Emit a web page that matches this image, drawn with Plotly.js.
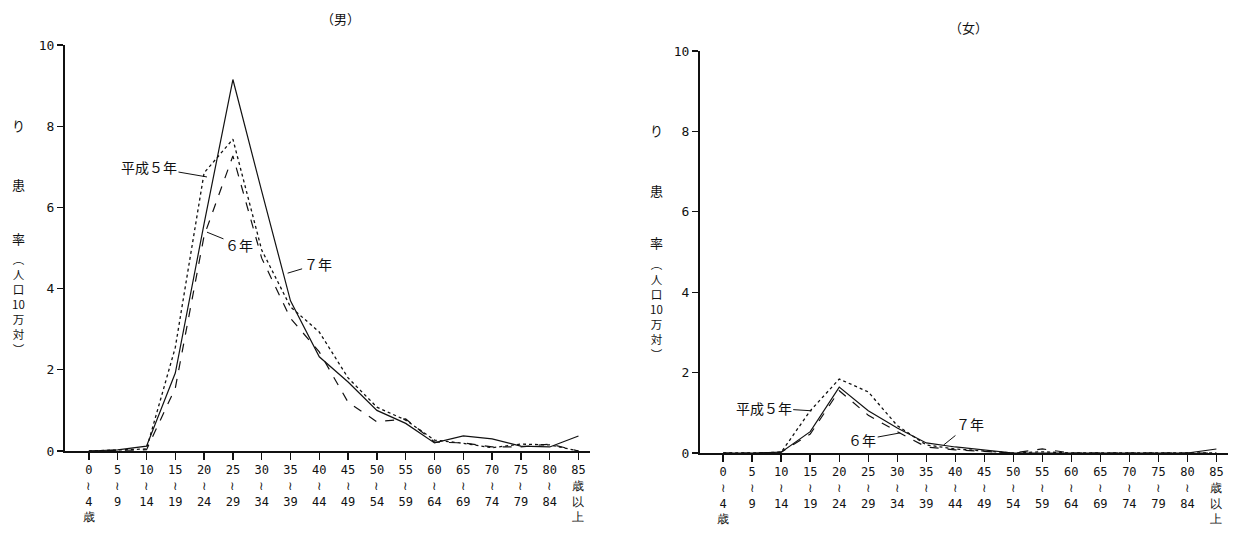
<!DOCTYPE html>
<html>
<head>
<meta charset="utf-8">
<script src="https://cdn.plot.ly/plotly-3.0.1.min.js"></script>
<style>html,body{margin:0;padding:0;background:#fff;}#chart{width:1243px;height:538px;}</style>
</head>
<body>
<div id="chart"></div>
<script>
// Age group tick labels (vertical Japanese style)
const ageLabels = ["0<br>≀<br>4<br>歳","5<br>≀<br>9","10<br>≀<br>14","15<br>≀<br>19","20<br>≀<br>24","25<br>≀<br>29","30<br>≀<br>34","35<br>≀<br>39","40<br>≀<br>44","45<br>≀<br>49","50<br>≀<br>54","55<br>≀<br>59","60<br>≀<br>64","65<br>≀<br>69","70<br>≀<br>74","75<br>≀<br>79","80<br>≀<br>84","85<br>歳<br>以<br>上"];
const agePos = [0,1,2,3,4,5,6,7,8,9,10,11,12,13,14,15,16,17];
const yTicks = [0,2,4,6,8,10];

// Male (男) rates per 100,000
const maleH5 = [0, 0.02, 0.05, 2.55, 6.85, 7.68, 4.95, 3.55, 2.93, 1.80, 1.08, 0.76, 0.27, 0.19, 0.08, 0.17, 0.15, 0.00];
const maleH6 = [0, 0.02, 0.03, 1.55, 5.30, 7.27, 4.75, 3.27, 2.44, 1.20, 0.72, 0.79, 0.22, 0.20, 0.10, 0.10, 0.17, 0.00];
const maleH7 = [0, 0.03, 0.12, 1.92, 5.60, 9.15, 6.40, 3.70, 2.32, 1.70, 1.00, 0.68, 0.20, 0.37, 0.30, 0.12, 0.10, 0.37];

// Female (女) rates per 100,000
const femaleH5 = [0, 0, 0.02, 1.05, 1.84, 1.52, 0.68, 0.20, 0.10, 0.05, 0, 0.03, 0, 0, 0, 0, 0, 0];
const femaleH6 = [0, 0, 0.02, 0.47, 1.55, 0.94, 0.53, 0.15, 0.08, 0.04, 0, 0.10, 0, 0, 0, 0, 0, 0];
const femaleH7 = [0, 0, 0.02, 0.53, 1.64, 1.05, 0.62, 0.25, 0.15, 0.08, 0, 0, 0, 0, 0, 0, 0, 0.10];

const seriesNames = ["平成５年", "６年", "７年"];
const yTitleTop = ["り", "患", "率"];
const yTitleSub = "︵<br>人<br>口<br>10<br>万<br>対<br>︶";

const CJK = "Noto Sans CJK JP";
const MONO = "DejaVu Sans Mono";

function tr(y, dash, name, xa, ya) {
  return {x: agePos, y: y, type: "scatter", mode: "lines", name: name, xaxis: xa, yaxis: ya,
    line: {color: "#111", width: dash === "dot" ? 1.3 : 1.2, dash: dash}, showlegend: false, hoverinfo: "skip"};
}

const data = [
  tr(maleH5, "dot", seriesNames[0], "x", "y"),
  tr(maleH6, "dash", seriesNames[1], "x", "y"),
  tr(maleH7, "solid", seriesNames[2], "x", "y"),
  tr(femaleH5, "dot", seriesNames[0], "x2", "y2"),
  tr(femaleH6, "dash", seriesNames[1], "x2", "y2"),
  tr(femaleH7, "solid", seriesNames[2], "x2", "y2")
];

function xax(domain, range, anchor) {
  return {domain: domain, range: range, anchor: anchor, tickmode: "array", tickvals: agePos, ticktext: ageLabels,
    ticks: "outside", ticklen: 7, tickwidth: 1.5, tickcolor: "#111", showline: true, linewidth: 2, linecolor: "#111",
    showgrid: false, zeroline: false, tickangle: 0, tickfont: {family: MONO, size: 12, color: "#111"}, fixedrange: true};
}
function yax(domain, anchor) {
  return {domain: domain, range: [0, 10], anchor: anchor, tickmode: "array", tickvals: yTicks, ticktext: yTicks.map(String),
    ticks: "outside", ticklen: 6, tickwidth: 1.2, tickcolor: "#111", showline: true, linewidth: 2, linecolor: "#111",
    showgrid: false, zeroline: false, tickfont: {family: MONO, size: 13, color: "#111"}, fixedrange: true};
}

const annotations = [];
function addText(text, x, y, size, yanchor) {
  annotations.push({xref: "paper", yref: "paper", x: x / 1243, y: 1 - y / 538, text: text, showarrow: false,
    xanchor: "center", yanchor: yanchor || "middle", font: {family: CJK, size: size, color: "#111"}});
}
// titles
addText("（男）", 340, 18, 13);
addText("（女）", 968, 28, 13);
// vertical y-axis titles
const yTopOffs = [125, 185, 238];
yTitleTop.forEach((c, i) => {
  addText(c, 18, yTopOffs[i], 13);
  addText(c, 656, yTopOffs[i] + 5, 13);
});
addText(yTitleSub, 18, 249, 11.5, "top");
addText(yTitleSub, 656, 254, 11.5, "top");

function lab(text, xref, yref, x, y, ax, ay) {
  annotations.push({xref: xref, yref: yref, x: x, y: y, text: text, showarrow: true, arrowhead: 0, arrowwidth: 1,
    arrowcolor: "#111", ax: ax, ay: ay, standoff: 0, font: {family: CJK, size: 14, color: "#111"}});
}
lab(seriesNames[0], "x", "y", 4.1, 6.75, -58, -10);
lab(seriesNames[1], "x", "y", 4.1, 5.39, 32, 13);
lab(seriesNames[2], "x", "y", 6.9, 4.38, 30, -9);
lab(seriesNames[0], "x2", "y2", 3.05, 1.05, -48, -3);
lab(seriesNames[1], "x2", "y2", 6.1, 0.5, -38, 7);
lab(seriesNames[2], "x2", "y2", 7.6, 0.2, 26, -21);

const layout = {
  width: 1243, height: 538, margin: {l: 0, r: 0, t: 0, b: 0},
  paper_bgcolor: "#fff", plot_bgcolor: "#fff", showlegend: false,
  xaxis: xax([65 / 1243, 590 / 1243], [-0.83, 17.4], "y"),
  yaxis: yax([(538 - 451) / 538, (538 - 45) / 538], "x"),
  xaxis2: xax([700 / 1243, 1228 / 1243], [-0.8, 17.4], "y2"),
  yaxis2: yax([(538 - 453) / 538, (538 - 51) / 538], "x2"),
  annotations: annotations
};

Plotly.newPlot("chart", data, layout, {displayModeBar: false, staticPlot: true});
</script>
</body>
</html>
